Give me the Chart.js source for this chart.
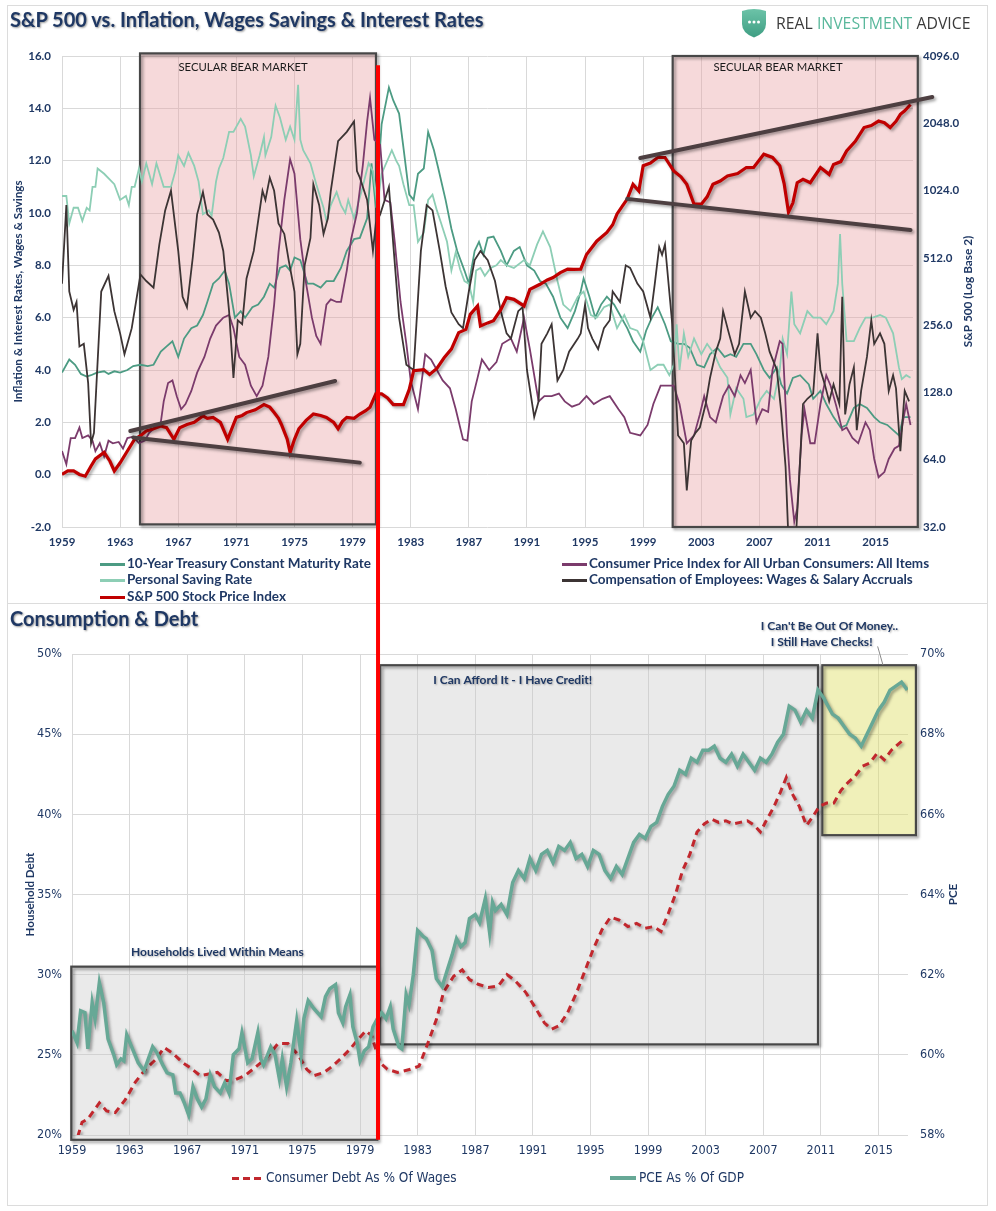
<!DOCTYPE html>
<html>
<head>
<meta charset="utf-8">
<title>S&amp;P 500 vs. Inflation, Wages Savings &amp; Interest Rates</title>
<script src="https://cdn.jsdelivr.net/npm/chart.js@4.4.1/dist/chart.umd.min.js"></script>
<style>
html, body { margin: 0; padding: 0; background: #fff; }
#page { position: relative; width: 996px; height: 1211px; overflow: hidden; font-family: Lato, 'Open Sans', sans-serif; color: #1f3864; }
.panel { position: absolute; left: 7px; width: 981px; border: 1px solid #dcdcdc; box-sizing: border-box; }
.wrap { position: absolute; left: 0; width: 996px; }
.title { position: absolute; left: 10px; font-weight: bold; font-size: 20px; color: #1f3864; text-shadow: 1px 1px 2px rgba(0,0,0,0.4); white-space: nowrap; }
.leg { position: absolute; height: 16px; line-height: 16px; white-space: nowrap; color: #1f3864; }
.leg .sw { display: inline-block; vertical-align: middle; margin-right: 2px; }
.topleg { font-size: 13.5px; font-weight: bold; }
.botleg { font-size: 13.5px; font-family: 'Liberation Sans Narrow', 'Arial Narrow', 'DejaVu Sans Condensed', sans-serif; }
#logo { position: absolute; left: 741px; top: 8px; height: 30px; }
#logo span.txt { position: absolute; left: 35px; top: 4px; font-family: 'Open Sans', sans-serif; font-size: 15.8px; color: #3b3b3b; white-space: nowrap; }
</style>
</head>
<body>
<div id="page">
  <div class="panel" style="top:5px; height:599px;"></div>
  <div class="panel" style="top:603px; height:603px;"></div>
  <div class="wrap" style="top:0; height:605px;"><canvas id="topChart"></canvas></div>
  <div class="wrap" style="top:605px; height:606px;"><canvas id="bottomChart"></canvas></div>
  <div class="title" style="top:7px;">S&amp;P 500 vs. Inflation, Wages Savings &amp; Interest Rates</div>
  <div class="title" style="top:606px;">Consumption &amp; Debt</div>
  <div id="logo">
    <svg width="26" height="30" viewBox="0 0 26 30">
      <defs><linearGradient id="g" x1="0" y1="0" x2="0" y2="1"><stop offset="0" stop-color="#6cc3a8"/><stop offset="1" stop-color="#3f9e83"/></linearGradient></defs>
      <path d="M1 3 Q13 -1 25 3 L25 16 Q25 25 13 29.5 Q1 25 1 16 Z" fill="url(#g)"/>
      <circle cx="8.5" cy="14" r="1.5" fill="#fff"/><circle cx="13" cy="14" r="1.5" fill="#fff"/><circle cx="17.5" cy="14" r="1.5" fill="#fff"/>
    </svg>
    <span class="txt">REAL <span style="color:#5ab89c">INVESTMENT</span> ADVICE</span>
  </div>
  <div id="legends"></div>
</div>
<script>
// ---------- top panel data ----------
const topTickYears = [1959, 1963, 1967, 1971, 1975, 1979, 1983, 1987, 1991, 1995, 1999, 2003, 2007, 2011, 2015];
const spTicks = [32, 64, 128, 256, 512, 1024, 2048, 4096];

// 10-Year Treasury Constant Maturity Rate [year, %]
const tsy = [[1959.0,3.9],[1959.5,4.4],[1959.9,4.2],[1960.3,3.85],[1960.7,3.75],[1961.0,3.8],[1961.4,3.9],[1961.9,3.95],[1962.2,3.85],[1962.6,3.95],[1963.0,3.9],[1963.5,4.0],[1963.9,4.15],[1964.4,4.2],[1964.9,4.15],[1965.3,4.2],[1965.8,4.7],[1966.2,4.9],[1966.6,5.1],[1967.0,4.5],[1967.4,5.2],[1967.9,5.6],[1968.3,5.7],[1968.7,6.1],[1969.0,6.6],[1969.4,7.3],[1969.8,7.5],[1970.2,7.8],[1970.5,7.3],[1970.9,6.0],[1971.3,6.25],[1971.6,6.0],[1972.1,6.4],[1972.5,6.5],[1972.9,6.8],[1973.3,7.3],[1973.6,7.15],[1974.0,7.9],[1974.4,8.0],[1974.7,7.8],[1975.0,8.3],[1975.4,8.2],[1975.9,7.3],[1976.3,7.3],[1976.8,7.15],[1977.2,7.4],[1977.7,7.4],[1978.2,7.9],[1978.6,8.55],[1979.1,9.0],[1979.5,9.05],[1980.0,9.8],[1980.3,11.9],[1980.6,10.2],[1981.0,13.4],[1981.5,14.8],[1981.8,14.3],[1982.2,13.8],[1982.5,12.5],[1982.9,10.7],[1983.2,10.5],[1983.5,11.5],[1983.9,11.7],[1984.2,13.1],[1984.6,12.4],[1984.9,11.7],[1985.4,10.5],[1985.8,9.4],[1986.2,8.55],[1986.7,7.8],[1987.0,7.3],[1987.4,8.55],[1987.7,8.9],[1988.0,8.4],[1988.3,9.05],[1988.7,9.1],[1989.2,8.55],[1989.6,8.0],[1990.1,8.55],[1990.5,8.7],[1991.0,8.0],[1991.5,7.8],[1991.9,7.4],[1992.3,7.3],[1992.8,6.8],[1993.3,6.0],[1993.8,5.6],[1994.3,6.25],[1994.7,7.0],[1994.9,7.5],[1995.3,6.8],[1995.7,6.0],[1996.1,6.5],[1996.5,6.8],[1997.0,6.5],[1997.4,6.1],[1997.9,5.6],[1998.3,5.1],[1998.8,4.7],[1999.2,5.5],[1999.6,6.0],[2000.0,6.4],[2000.5,5.75],[2000.9,5.1],[2001.4,5.0],[2001.8,5.0],[2002.2,4.85],[2002.7,4.2],[2003.2,4.1],[2003.6,4.6],[2004.1,4.85],[2004.6,4.5],[2005.0,4.6],[2005.4,4.5],[2005.9,5.0],[2006.4,5.0],[2006.8,4.6],[2007.3,4.0],[2007.7,3.7],[2008.2,4.1],[2008.5,3.45],[2008.9,3.1],[2009.3,3.7],[2009.8,3.8],[2010.4,3.45],[2010.7,2.9],[2011.2,3.2],[2011.6,2.7],[2012.1,2.2],[2012.6,1.8],[2013.0,1.9],[2013.5,2.55],[2013.9,2.7],[2014.4,2.55],[2014.9,2.2],[2015.3,2.0],[2015.8,1.9],[2016.2,1.7],[2016.6,1.5],[2016.9,2.2],[2017.4,2.2]];

// Personal Saving Rate [year, %]
const saving = [[1959.0,10.65],[1959.3,10.65],[1959.5,9.6],[1959.8,10.2],[1960.1,10.2],[1960.4,9.7],[1960.7,10.2],[1960.9,10.1],[1961.1,11.0],[1961.3,11.0],[1961.45,11.7],[1961.9,11.5],[1962.6,11.1],[1963.0,10.5],[1963.4,10.65],[1963.6,10.3],[1963.8,11.0],[1964.0,11.0],[1964.3,11.7],[1964.5,11.2],[1964.8,11.9],[1965.2,11.1],[1965.5,11.9],[1966.0,11.0],[1966.5,11.0],[1966.8,11.6],[1967.0,12.2],[1967.4,11.8],[1967.7,12.3],[1968.1,11.8],[1968.4,11.2],[1968.7,9.95],[1969.1,10.1],[1969.3,9.9],[1969.6,11.2],[1969.8,11.7],[1970.1,12.1],[1970.5,13.1],[1970.8,13.1],[1971.3,13.6],[1971.6,13.3],[1972.0,12.2],[1972.2,11.4],[1972.6,12.2],[1972.9,12.9],[1973.0,12.2],[1973.4,12.9],[1973.7,14.1],[1974.0,13.65],[1974.4,12.8],[1974.7,13.3],[1975.0,12.8],[1975.25,14.9],[1975.4,12.8],[1975.6,12.4],[1976.1,11.9],[1976.5,11.1],[1977.0,10.2],[1977.2,9.7],[1977.5,10.3],[1977.9,10.8],[1978.2,10.3],[1978.5,10.0],[1978.7,10.5],[1979.1,9.8],[1979.3,10.2],[1979.6,10.8],[1980.1,11.9],[1980.4,11.6],[1980.7,10.3],[1981.0,11.5],[1981.7,12.4],[1982.0,12.0],[1982.2,11.8],[1982.5,11.1],[1982.9,10.3],[1983.2,10.3],[1983.5,8.9],[1983.9,9.25],[1984.2,10.5],[1984.5,10.7],[1984.8,10.1],[1985.1,9.6],[1985.5,8.9],[1985.8,7.8],[1986.1,8.5],[1986.4,7.85],[1986.7,7.4],[1987.0,7.3],[1987.3,6.6],[1987.5,7.8],[1987.8,7.9],[1988.1,7.6],[1988.5,7.9],[1988.9,8.0],[1989.2,8.2],[1989.6,8.0],[1990.1,7.9],[1990.8,8.2],[1991.2,8.0],[1991.7,8.8],[1992.1,9.3],[1992.6,8.7],[1993.1,7.4],[1993.5,6.5],[1994.0,6.25],[1994.5,6.8],[1994.9,7.0],[1995.4,6.1],[1995.8,6.0],[1996.3,6.4],[1996.7,6.5],[1997.2,5.6],[1997.7,6.1],[1998.1,5.6],[1998.6,5.5],[1999.0,5.1],[1999.5,4.0],[2000.0,4.2],[2000.4,4.2],[2000.8,3.8],[2001.1,4.2],[2001.3,5.75],[2001.5,4.0],[2001.8,5.4],[2002.1,4.5],[2002.5,5.2],[2003.0,4.6],[2003.4,5.0],[2003.9,4.6],[2004.3,4.1],[2004.8,3.7],[2005.0,2.3],[2005.4,3.3],[2005.9,2.9],[2006.1,2.2],[2006.6,2.3],[2007.1,2.9],[2007.5,3.2],[2008.0,2.9],[2008.4,4.0],[2008.6,5.2],[2008.9,4.6],[2009.2,7.0],[2009.4,5.75],[2009.8,5.4],[2010.3,6.25],[2010.7,6.0],[2011.2,6.0],[2011.6,5.75],[2012.1,6.25],[2012.4,7.3],[2012.55,9.2],[2012.7,7.3],[2013.0,5.1],[2013.5,5.1],[2013.9,5.6],[2014.3,6.0],[2014.8,6.0],[2015.3,6.1],[2015.7,6.0],[2016.2,5.4],[2016.6,4.1],[2016.8,3.65],[2017.1,3.8],[2017.4,3.7]];

// Consumer Price Index, YoY [year, %]
const cpi = [[1959.0,0.9],[1959.3,0.4],[1959.6,1.4],[1959.9,1.4],[1960.2,1.8],[1960.4,1.4],[1960.8,1.5],[1961.1,1.3],[1961.3,0.9],[1961.6,1.2],[1961.9,0.7],[1962.2,1.3],[1962.5,1.2],[1962.9,1.25],[1963.2,1.0],[1963.5,1.4],[1963.9,1.45],[1964.3,1.2],[1964.7,1.3],[1965.0,1.6],[1965.4,1.8],[1965.8,2.0],[1966.0,2.8],[1966.3,3.5],[1966.6,3.6],[1966.9,3.0],[1967.2,2.5],[1967.5,2.7],[1967.9,3.2],[1968.3,3.9],[1968.8,4.5],[1969.2,5.2],[1969.6,5.7],[1970.1,6.0],[1970.5,6.1],[1970.8,5.6],[1971.2,4.5],[1971.6,4.2],[1972.0,3.4],[1972.4,3.0],[1972.8,3.4],[1973.2,4.5],[1973.6,6.5],[1973.9,8.5],[1974.3,10.5],[1974.7,12.05],[1975.0,11.5],[1975.4,9.0],[1975.8,7.3],[1976.2,6.0],[1976.5,5.3],[1976.8,5.0],[1977.2,6.5],[1977.5,6.7],[1977.9,6.6],[1978.2,6.6],[1978.6,7.8],[1978.9,9.0],[1979.3,10.0],[1979.7,11.8],[1980.0,13.5],[1980.2,14.4],[1980.5,12.8],[1980.9,12.6],[1981.2,10.5],[1981.6,10.4],[1981.9,8.9],[1982.3,6.6],[1982.7,5.0],[1983.0,3.6],[1983.5,2.5],[1984.0,4.6],[1984.4,4.4],[1984.8,4.0],[1985.2,3.6],[1985.7,3.3],[1986.1,2.5],[1986.6,1.35],[1986.9,1.3],[1987.2,2.8],[1987.6,3.7],[1987.9,4.4],[1988.4,4.0],[1988.9,4.3],[1989.3,5.0],[1989.9,5.2],[1990.3,4.7],[1990.8,6.0],[1991.2,4.8],[1991.8,2.8],[1992.2,3.0],[1992.7,3.0],[1993.2,3.1],[1993.6,2.8],[1994.1,2.6],[1994.6,2.7],[1995.1,3.0],[1995.6,2.7],[1996.2,2.9],[1996.7,3.0],[1997.3,2.5],[1997.7,2.2],[1998.1,1.6],[1998.8,1.5],[1999.3,1.9],[1999.7,2.7],[2000.2,3.4],[2000.6,3.4],[2001.1,3.4],[2001.5,2.7],[2002.0,1.2],[2002.5,1.5],[2002.9,2.3],[2003.2,3.0],[2003.6,2.2],[2004.0,2.0],[2004.5,3.0],[2004.9,3.4],[2005.3,3.0],[2005.7,3.8],[2006.0,3.5],[2006.4,4.0],[2006.8,2.0],[2007.2,2.5],[2007.6,2.4],[2007.9,4.0],[2008.4,5.1],[2008.6,5.0],[2008.9,1.5],[2009.1,-0.2],[2009.4,-1.8],[2009.6,-1.3],[2009.9,1.5],[2010.1,2.5],[2010.5,1.2],[2010.8,1.2],[2011.2,2.7],[2011.6,3.8],[2011.9,3.4],[2012.3,2.6],[2012.7,1.7],[2013.0,1.8],[2013.4,1.4],[2013.8,1.2],[2014.3,2.0],[2014.6,1.7],[2014.9,0.6],[2015.2,-0.1],[2015.6,0.1],[2015.9,0.6],[2016.3,1.0],[2016.6,1.1],[2016.9,2.1],[2017.1,2.7],[2017.4,1.9]];

// Compensation of Employees: Wages & Salary Accruals, YoY [year, %]
const wages = [[1959.0,7.3],[1959.3,10.3],[1959.5,7.0],[1959.8,6.3],[1960.0,6.6],[1960.2,4.9],[1960.5,5.0],[1960.8,3.5],[1961.0,1.2],[1961.2,1.6],[1961.7,7.0],[1962.2,7.6],[1962.6,6.25],[1963.0,5.4],[1963.3,4.6],[1963.8,5.6],[1964.4,7.65],[1964.8,7.4],[1965.3,7.15],[1965.7,8.8],[1966.1,10.1],[1966.5,10.85],[1967.0,8.55],[1967.3,6.8],[1967.6,6.4],[1968.0,8.3],[1968.3,9.95],[1968.7,10.8],[1969.0,9.95],[1969.4,9.75],[1969.8,9.25],[1970.1,8.55],[1970.5,6.25],[1970.8,3.7],[1971.1,5.9],[1971.4,5.75],[1971.7,7.5],[1972.2,8.55],[1972.8,10.85],[1973.0,10.5],[1973.3,11.35],[1973.6,10.85],[1973.9,9.6],[1974.3,9.2],[1974.6,8.2],[1975.0,7.0],[1975.2,4.6],[1975.4,5.0],[1975.7,8.0],[1976.1,9.05],[1976.3,11.1],[1976.7,10.3],[1977.0,9.2],[1977.3,9.8],[1977.5,10.85],[1977.7,11.6],[1978.0,12.75],[1978.6,13.1],[1979.1,13.5],[1979.3,11.6],[1979.5,11.35],[1980.0,10.5],[1980.4,8.55],[1980.6,9.6],[1980.9,9.95],[1981.5,11.0],[1981.8,8.8],[1982.2,6.0],[1982.7,4.2],[1983.2,4.0],[1983.7,8.55],[1984.1,10.3],[1984.5,10.1],[1985.0,8.55],[1985.4,7.2],[1985.8,6.2],[1986.3,5.75],[1986.6,5.6],[1987.0,7.0],[1987.4,8.2],[1987.8,8.55],[1988.3,8.2],[1988.8,7.4],[1989.2,6.25],[1989.6,5.4],[1989.9,5.2],[1990.4,6.25],[1990.7,6.4],[1991.0,4.0],[1991.5,2.2],[1991.8,2.8],[1992.0,5.0],[1992.4,5.4],[1992.7,5.75],[1993.1,3.6],[1993.5,4.0],[1993.9,4.7],[1994.5,5.2],[1994.7,5.4],[1995.0,6.5],[1995.2,5.6],[1995.5,5.2],[1995.9,4.8],[1996.3,5.6],[1996.7,5.9],[1996.9,7.0],[1997.4,6.6],[1997.8,8.0],[1998.1,7.9],[1998.6,7.3],[1999.0,7.0],[1999.5,6.0],[1999.8,7.3],[2000.1,8.7],[2000.3,8.4],[2000.5,8.8],[2001.0,5.75],[2001.4,1.5],[2001.8,1.2],[2002.0,-0.6],[2002.3,1.3],[2002.6,1.6],[2002.9,1.8],[2003.3,2.7],[2003.6,3.7],[2004.0,4.7],[2004.3,5.2],[2004.5,6.25],[2004.9,5.4],[2005.3,4.6],[2005.6,5.0],[2006.0,7.0],[2006.4,6.0],[2006.7,6.25],[2007.1,6.0],[2007.4,5.4],[2007.7,4.7],[2008.2,4.0],[2008.5,2.4],[2008.8,0.3],[2009.0,-2.5],[2009.4,-3.5],[2009.7,-0.5],[2010.0,2.7],[2010.3,2.9],[2010.7,3.1],[2011.0,5.4],[2011.2,4.0],[2011.5,3.45],[2011.8,2.8],[2012.1,3.45],[2012.5,2.7],[2012.7,6.8],[2012.9,2.3],[2013.2,3.45],[2013.5,4.1],[2013.7,1.7],[2014.0,3.2],[2014.4,4.5],[2014.7,5.9],[2014.9,5.0],[2015.3,5.4],[2015.6,5.0],[2015.9,3.2],[2016.2,3.8],[2016.4,3.3],[2016.7,0.9],[2017.0,3.2],[2017.3,2.8]];

// S&P 500 Stock Price Index [year, index level] (right log-2 axis)
const sp500 = [[1959.0,55],[1959.4,57],[1959.8,57],[1960.2,55],[1960.6,54],[1961.0,60],[1961.3,64.5],[1961.9,69],[1962.3,63],[1962.6,57],[1963.0,62],[1963.5,70],[1964.0,79],[1964.4,82],[1964.8,86],[1965.3,88],[1965.8,90.5],[1966.2,89],[1966.7,79],[1967.1,89],[1967.6,92],[1968.1,94],[1968.7,100.5],[1969.0,98],[1969.4,99],[1969.9,94],[1970.4,79],[1970.8,92],[1971.0,99],[1971.4,101],[1971.7,104],[1972.3,107],[1972.9,113],[1973.3,110],[1973.6,104],[1973.9,98],[1974.1,92],[1974.5,79],[1974.7,69],[1975.0,79],[1975.3,88],[1975.8,96],[1976.3,102.5],[1976.8,101],[1977.2,99],[1977.7,94],[1978.0,88],[1978.3,95],[1978.6,99],[1979.1,98],[1979.5,102.5],[1979.9,106],[1980.2,110],[1980.6,126],[1981.0,126],[1981.4,121],[1981.8,113],[1982.5,113],[1982.9,132],[1983.2,160],[1983.9,162],[1984.3,154],[1984.8,164],[1985.3,183],[1985.8,200],[1986.3,237],[1986.8,245],[1987.1,286],[1987.6,312],[1987.8,254],[1988.3,262],[1988.7,268],[1989.2,300],[1989.6,340],[1990.1,334],[1990.8,312],[1991.2,370],[1991.9,390],[1992.4,408],[1992.8,418],[1993.3,440],[1993.8,456],[1994.2,455],[1994.7,456],[1995.1,530],[1995.8,608],[1996.5,665],[1996.9,720],[1997.2,805],[1997.6,880],[1997.9,938],[1998.3,1092],[1998.7,1020],[1999.0,1322],[1999.5,1360],[2000.0,1440],[2000.5,1440],[2001.1,1254],[2001.6,1180],[2002.0,1092],[2002.5,890],[2003.0,890],[2003.4,960],[2003.8,1092],[2004.3,1130],[2004.8,1190],[2005.5,1220],[2006.1,1298],[2006.6,1300],[2007.3,1490],[2007.9,1440],[2008.4,1322],[2008.7,1100],[2009.0,820],[2009.3,900],[2009.6,1110],[2010.0,1150],[2010.5,1110],[2011.2,1298],[2011.8,1210],[2012.1,1340],[2012.6,1380],[2013.0,1540],[2013.6,1700],[2014.2,1960],[2014.7,2000],[2015.2,2095],[2015.6,2060],[2016.0,1960],[2016.4,2090],[2016.7,2245],[2017.0,2330],[2017.4,2485]];

// ---------- bottom panel data ----------
// Consumer Debt As % Of Wages [year, %] (left axis)
const debtWages = [[1959.4,19.9],[1959.7,20.8],[1960.1,21.0],[1960.9,22.0],[1961.4,21.5],[1962.0,21.4],[1962.7,22.2],[1963.4,23.3],[1964.1,24.1],[1964.8,24.7],[1965.4,25.45],[1966.0,25.1],[1966.7,24.5],[1967.2,24.2],[1967.9,23.7],[1968.5,23.8],[1969.1,23.9],[1969.7,23.4],[1970.2,23.4],[1971.0,23.7],[1971.7,24.2],[1972.5,24.8],[1973.3,25.7],[1974.0,25.7],[1974.7,25.0],[1975.3,24.1],[1975.8,23.7],[1976.5,23.9],[1977.1,24.3],[1977.7,24.8],[1978.3,25.35],[1978.8,25.9],[1979.4,26.5],[1979.8,26.2],[1980.1,25.35],[1980.4,24.5],[1980.9,24.1],[1981.6,23.9],[1982.5,24.1],[1983.1,24.3],[1983.7,25.7],[1984.3,27.2],[1984.8,28.9],[1985.5,29.9],[1986.1,30.3],[1986.6,29.7],[1987.2,29.4],[1987.9,29.2],[1988.6,29.3],[1989.2,30.0],[1989.8,29.6],[1990.5,28.9],[1991.2,27.9],[1991.8,27.0],[1992.3,26.6],[1992.8,26.8],[1993.4,27.6],[1994.0,28.8],[1994.6,30.2],[1995.2,31.6],[1995.8,32.8],[1996.4,33.6],[1997.0,33.4],[1997.6,33.0],[1998.2,33.2],[1998.8,32.9],[1999.4,33.0],[1999.9,32.7],[2000.4,33.8],[2000.9,35.0],[2001.4,36.5],[2001.9,37.5],[2002.4,38.9],[2002.9,39.4],[2003.4,39.7],[2003.9,39.5],[2004.4,39.6],[2004.9,39.4],[2005.4,39.5],[2005.9,39.6],[2006.4,39.3],[2006.8,38.9],[2007.2,39.6],[2007.7,40.4],[2008.2,41.4],[2008.6,42.3],[2009.0,41.3],[2009.5,40.5],[2010.0,39.3],[2010.4,39.8],[2010.9,40.5],[2011.4,40.7],[2011.9,40.7],[2012.4,41.5],[2012.9,42.0],[2013.4,42.4],[2013.9,43.0],[2014.4,43.2],[2014.9,43.8],[2015.4,43.4],[2015.9,44.0],[2016.4,44.4],[2016.8,44.7]];

// PCE As % Of GDP [year, %] (right axis)
const pceGdp = [[1959.0,60.6],[1959.35,60.3],[1959.6,61.1],[1959.9,61.05],[1960.1,60.15],[1960.4,61.3],[1960.6,60.9],[1960.9,61.8],[1961.2,61.3],[1961.5,60.4],[1961.9,60.0],[1962.1,59.75],[1962.4,59.9],[1962.6,59.85],[1962.8,60.5],[1963.2,60.15],[1963.6,59.8],[1964.0,59.6],[1964.3,59.9],[1964.6,60.2],[1964.9,60.05],[1965.3,59.75],[1965.6,59.55],[1966.0,59.5],[1966.2,59.05],[1966.5,59.05],[1966.8,58.8],[1967.1,58.5],[1967.4,59.2],[1967.7,58.9],[1968.0,58.7],[1968.3,58.9],[1968.6,59.5],[1968.9,59.2],[1969.3,59.05],[1969.6,59.3],[1969.9,59.05],[1970.2,60.0],[1970.6,60.15],[1970.8,60.55],[1971.2,59.8],[1971.5,59.9],[1971.9,60.55],[1972.1,59.9],[1972.3,59.75],[1972.8,60.2],[1973.1,60.0],[1973.4,59.4],[1973.6,59.9],[1973.9,59.2],[1974.2,59.8],[1974.6,60.85],[1974.9,60.0],[1975.1,60.9],[1975.4,61.35],[1975.8,61.15],[1976.3,60.95],[1976.6,61.45],[1976.9,61.65],[1977.3,61.75],[1977.5,61.05],[1977.8,60.8],[1978.0,61.2],[1978.3,61.5],[1978.5,60.7],[1978.8,60.3],[1979.0,59.85],[1979.3,60.1],[1979.6,60.2],[1979.9,60.7],[1980.2,60.9],[1980.5,61.05],[1980.8,60.9],[1981.1,61.2],[1981.3,60.65],[1981.7,60.2],[1981.9,60.15],[1982.2,61.5],[1982.4,61.25],[1982.7,62.0],[1983.0,63.1],[1983.4,62.95],[1983.6,62.9],[1984.0,62.6],[1984.3,61.9],[1984.7,61.7],[1985.0,62.05],[1985.4,62.5],[1985.7,62.9],[1986.0,62.7],[1986.3,62.8],[1986.6,63.4],[1987.0,63.5],[1987.3,63.3],[1987.7,63.9],[1988.0,63.05],[1988.2,63.8],[1988.4,63.6],[1988.8,63.75],[1989.2,63.5],[1989.6,64.3],[1990.0,64.6],[1990.4,64.4],[1990.8,64.9],[1991.2,64.6],[1991.6,65.0],[1992.0,65.1],[1992.4,64.8],[1992.8,65.2],[1993.2,65.1],[1993.6,65.3],[1994.0,64.9],[1994.4,65.0],[1994.8,64.7],[1995.2,65.1],[1995.6,65.0],[1996.0,64.6],[1996.4,64.4],[1996.8,64.7],[1997.2,64.5],[1997.6,64.9],[1998.0,65.3],[1998.4,65.5],[1998.8,65.4],[1999.2,65.7],[1999.6,65.8],[2000.0,66.2],[2000.4,66.5],[2000.8,66.7],[2001.2,67.1],[2001.6,67.0],[2002.0,67.4],[2002.4,67.3],[2002.8,67.6],[2003.2,67.6],[2003.6,67.7],[2004.0,67.4],[2004.4,67.3],[2004.8,67.5],[2005.2,67.2],[2005.6,67.5],[2006.0,67.3],[2006.4,67.1],[2006.8,67.4],[2007.2,67.3],[2007.6,67.5],[2008.0,67.8],[2008.4,68.0],[2008.8,68.7],[2009.2,68.6],[2009.6,68.3],[2010.0,68.6],[2010.4,68.4],[2010.8,69.1],[2011.2,68.9],[2011.5,68.7],[2011.8,68.5],[2012.2,68.4],[2012.6,68.2],[2013.0,68.0],[2013.4,67.9],[2013.8,67.7],[2014.2,68.0],[2014.6,68.3],[2015.0,68.6],[2015.4,68.8],[2015.8,69.1],[2016.2,69.2],[2016.6,69.3],[2017.0,69.1]];

// ---------- annotations (data units) ----------
const bearBoxes = [[1964.37, 2001.03], [1980.61, 2017.9]]; // [starts], [ends]
const bearLabelYears = [1971.46, 2008.28];
const trendLines = [
  [1963.7, 1.67, 1977.8, 3.58],
  [1963.9, 1.42, 1979.5, 0.46],
  [1998.8, 12.1, 2018.9, 14.43],
  [1997.9, 10.54, 2017.4, 9.35]
];
const redLineTopYear = 1980.75;
const redLineBottomYear = 1980.25;

const NAVY = '#1f3864';
const GRID = '#d9d9d9';
const NARROW = "'Liberation Sans Narrow', 'Arial Narrow', 'DejaVu Sans Condensed', sans-serif";
const LATO = "Lato, 'Open Sans', sans-serif";

Chart.defaults.font.family = LATO;
Chart.defaults.color = NAVY;

function xy(pairs) {
  return pairs.map(p => ({ x: p[0], y: p[1] }));
}

function series(label, pairs, color, width, axis, extra) {
  return Object.assign({
    label: label,
    data: xy(pairs),
    borderColor: color,
    backgroundColor: color,
    borderWidth: width,
    pointRadius: 0,
    pointHoverRadius: 0,
    tension: 0,
    fill: false,
    yAxisID: axis
  }, extra || {});
}

// drop shadow under selected lines
const lineShadow = {
  id: 'lineShadow',
  beforeDatasetDraw(chart, args) {
    if (!chart.data.datasets[args.index].shadow) return;
    const ctx = chart.ctx;
    ctx.save();
    ctx.shadowColor = 'rgba(0,0,0,0.35)';
    ctx.shadowBlur = 3;
    ctx.shadowOffsetX = 2;
    ctx.shadowOffsetY = 2;
  },
  afterDatasetDraw(chart, args) {
    if (chart.data.datasets[args.index].shadow) chart.ctx.restore();
  }
};

// boxes, trend lines, notes, the red divider and rotated axis titles
function makeOverlay(cfg) {
  return {
    id: 'overlay',
    beforeDatasetsDraw(chart) {
      const ctx = chart.ctx, x = chart.scales.x, y = chart.scales.y;
      (cfg.boxes || []).forEach(b => {
        const l = x.getPixelForValue(b.x0), r = x.getPixelForValue(b.x1);
        const t = y.getPixelForValue(b.top), bt = y.getPixelForValue(b.bottom);
        ctx.save();
        ctx.fillStyle = b.fill;
        ctx.fillRect(l, t, r - l, bt - t);
        ctx.shadowColor = 'rgba(0,0,0,0.4)';
        ctx.shadowBlur = 3;
        ctx.shadowOffsetX = 2;
        ctx.shadowOffsetY = 2;
        ctx.strokeStyle = '#474747';
        ctx.lineWidth = 2.2;
        ctx.strokeRect(l, t, r - l, bt - t);
        ctx.restore();
      });
    },
    afterDatasetsDraw(chart) {
      const ctx = chart.ctx, x = chart.scales.x, y = chart.scales.y;
      (cfg.lines || []).forEach(ln => {
        ctx.save();
        if (ln.shadow) {
          ctx.shadowColor = 'rgba(0,0,0,0.35)';
          ctx.shadowBlur = 3;
          ctx.shadowOffsetX = 2;
          ctx.shadowOffsetY = 2;
        }
        ctx.strokeStyle = ln.color;
        ctx.lineWidth = ln.width;
        ctx.lineCap = 'round';
        ctx.beginPath();
        ctx.moveTo(x.getPixelForValue(ln.x0), y.getPixelForValue(ln.y0));
        ctx.lineTo(x.getPixelForValue(ln.x1), y.getPixelForValue(ln.y1));
        ctx.stroke();
        ctx.restore();
      });
      (cfg.notes || []).forEach(n => {
        ctx.save();
        ctx.font = n.font;
        ctx.fillStyle = n.color;
        ctx.textAlign = 'center';
        ctx.textBaseline = 'middle';
        if (n.shadow) {
          ctx.shadowColor = 'rgba(0,0,0,0.3)';
          ctx.shadowBlur = 2;
          ctx.shadowOffsetX = 1;
          ctx.shadowOffsetY = 1;
        }
        ctx.fillText(n.text, x.getPixelForValue(n.x), y.getPixelForValue(n.y));
        ctx.restore();
      });
    },
    afterDraw(chart) {
      const ctx = chart.ctx, x = chart.scales.x, y = chart.scales.y, a = chart.chartArea;
      if (cfg.divider) {
        const d = cfg.divider;
        const px = x.getPixelForValue(d.x);
        const y0 = d.from === null ? 0 : y.getPixelForValue(d.from);
        const y1 = d.to === null ? chart.height : y.getPixelForValue(d.to);
        ctx.save();
        ctx.strokeStyle = '#ff0000';
        ctx.lineWidth = 4;
        ctx.beginPath();
        ctx.moveTo(px, y0);
        ctx.lineTo(px, y1);
        ctx.stroke();
        ctx.restore();
      }
      (cfg.axisTitles || []).forEach(t => {
        const px = t.side === 'left' ? a.left - t.offset : a.right + t.offset;
        ctx.save();
        ctx.translate(px, (a.top + a.bottom) / 2);
        ctx.rotate(-Math.PI / 2);
        ctx.font = t.font;
        ctx.fillStyle = NAVY;
        ctx.textAlign = 'center';
        ctx.textBaseline = 'middle';
        ctx.fillText(t.text, 0, 0);
        ctx.restore();
      });
    }
  };
}

const tickFont = { family: LATO, size: 11.5, weight: 'bold' };
const narrowFont = { family: NARROW, size: 12.5, weight: 'normal' };

// ---------- top chart ----------
const topOverlay = makeOverlay({
  boxes: [
    { x0: bearBoxes[0][0], x1: bearBoxes[1][0], top: 16.1, bottom: -1.9, fill: 'rgba(232,160,163,0.4)' },
    { x0: bearBoxes[0][1], x1: bearBoxes[1][1], top: 16.0, bottom: -2.0, fill: 'rgba(232,160,163,0.4)' }
  ],
  lines: trendLines.map(t => ({ x0: t[0], y0: t[1], x1: t[2], y1: t[3], color: '#4d3f41', width: 4, shadow: true })),
  notes: bearLabelYears.map(yr => ({ x: yr, y: 15.58, text: 'SECULAR BEAR MARKET', font: '11.3px ' + LATO, color: '#1a1a1a' })),
  divider: { x: redLineTopYear, from: 15.65, to: null },
  axisTitles: [
    { side: 'left', offset: 44, text: 'Inflation & Interest Rates, Wages & Savings', font: 'bold 11.6px ' + LATO },
    { side: 'right', offset: 55, text: 'S&P 500 (Log Base 2)', font: 'bold 11.8px ' + LATO }
  ]
});

new Chart(document.getElementById('topChart'), {
  type: 'line',
  data: {
    datasets: [
      series('S&P 500 Stock Price Index', sp500, '#c00000', 3.2, 'y2', { shadow: true }),
      series('Compensation of Employees: Wages & Salary Accruals', wages, '#3c3434', 1.8, 'y'),
      series('Consumer Price Index for All Urban Consumers: All Items', cpi, '#7b3b6c', 1.8, 'y'),
      series('Personal Saving Rate', saving, '#8dceb5', 1.8, 'y'),
      series('10-Year Treasury Constant Maturity Rate', tsy, '#4c9b83', 1.8, 'y')
    ]
  },
  options: {
    responsive: true,
    maintainAspectRatio: false,
    animation: false,
    events: [],
    layout: { padding: { top: 56, bottom: 0, left: 0, right: 0 } },
    plugins: { legend: { display: false }, tooltip: { enabled: false } },
    scales: {
      x: {
        type: 'linear',
        min: 1959,
        max: 2017.57,
        afterBuildTicks: s => { s.ticks = topTickYears.map(v => ({ value: v })); },
        afterFit: s => { s.height = 78; },
        ticks: { callback: v => String(v), font: tickFont, color: NAVY, maxRotation: 0, autoSkip: false, padding: 8 },
        grid: { color: GRID, drawTicks: false },
        border: { display: false }
      },
      y: {
        type: 'linear',
        position: 'left',
        min: -2,
        max: 16,
        afterFit: s => { s.width = 62; },
        ticks: { stepSize: 2, callback: v => v.toFixed(1), font: tickFont, color: NAVY, padding: 11 },
        grid: { color: GRID, drawTicks: false },
        border: { display: false }
      },
      y2: {
        type: 'logarithmic',
        position: 'right',
        min: 32,
        max: 4096,
        afterBuildTicks: s => { s.ticks = spTicks.map(v => ({ value: v })); },
        afterFit: s => { s.width = 83; },
        ticks: { callback: v => Number(v).toFixed(1), font: tickFont, color: NAVY, padding: 10 },
        grid: { display: false, drawTicks: false },
        border: { display: false }
      }
    }
  },
  plugins: [lineShadow, topOverlay]
});

// ---------- bottom chart ----------
const noteFont = 'bold 12px ' + LATO;
const bottomOverlay = makeOverlay({
  boxes: [
    { x0: 1958.95, x1: 1980.2, top: 30.5, bottom: 19.7, fill: 'rgba(200,200,200,0.38)' },
    { x0: 1980.4, x1: 2010.8, top: 49.3, bottom: 25.65, fill: 'rgba(200,200,200,0.38)' },
    { x0: 2011.1, x1: 2017.6, top: 49.3, bottom: 38.7, fill: 'rgba(222,222,100,0.45)' }
  ],
  lines: [{ x0: 2014.95, y0: 50.45, x1: 2015.3, y1: 49.35, color: '#8a8a8a', width: 1, shadow: false }],
  notes: [
    { x: 1969.1, y: 31.4, text: 'Households Lived Within Means', font: noteFont, color: NAVY, shadow: true },
    { x: 1989.6, y: 48.4, text: 'I Can Afford It - I Have Credit!', font: noteFont, color: NAVY, shadow: true },
    { x: 2011.6, y: 51.75, text: "I Can't Be Out Of Money..", font: noteFont, color: NAVY, shadow: true },
    { x: 2011.05, y: 50.75, text: 'I Still Have Checks!', font: noteFont, color: NAVY, shadow: true }
  ],
  divider: { x: redLineBottomYear, from: null, to: 19.7 },
  axisTitles: [
    { side: 'left', offset: 42, text: 'Household Debt', font: 'bold 11.5px ' + LATO },
    { side: 'right', offset: 45, text: 'PCE', font: 'bold 11.5px ' + LATO }
  ]
});

new Chart(document.getElementById('bottomChart'), {
  type: 'line',
  data: {
    datasets: [
      series('PCE As % Of GDP', pceGdp, '#67a896', 3.5, 'y2', { shadow: true }),
      series('Consumer Debt As % Of Wages', debtWages, '#c1272d', 3, 'y', { borderDash: [7, 5], shadow: true })
    ]
  },
  options: {
    responsive: true,
    maintainAspectRatio: false,
    animation: false,
    events: [],
    layout: { padding: { top: 49, bottom: 0, left: 0, right: 0 } },
    plugins: { legend: { display: false }, tooltip: { enabled: false } },
    scales: {
      x: {
        type: 'linear',
        min: 1959,
        max: 2017.05,
        afterBuildTicks: s => { s.ticks = topTickYears.map(v => ({ value: v })); },
        afterFit: s => { s.height = 76; },
        ticks: { callback: v => String(v), font: narrowFont, color: NAVY, maxRotation: 0, autoSkip: false, padding: 8 },
        grid: { color: GRID, drawTicks: false },
        border: { display: false }
      },
      y: {
        type: 'linear',
        position: 'left',
        min: 20,
        max: 50,
        afterFit: s => { s.width = 72; },
        ticks: { stepSize: 5, callback: v => v + '%', font: narrowFont, color: NAVY, padding: 10 },
        grid: { color: GRID, drawTicks: false },
        border: { display: false }
      },
      y2: {
        type: 'linear',
        position: 'right',
        min: 58,
        max: 70,
        afterFit: s => { s.width = 88; },
        ticks: { stepSize: 2, callback: v => v + '%', font: narrowFont, color: NAVY, padding: 12 },
        grid: { display: false, drawTicks: false },
        border: { display: false }
      }
    }
  },
  plugins: [lineShadow, bottomOverlay]
});

// ---------- legends ----------
const topLegend = [
  { label: '10-Year Treasury Constant Maturity Rate', color: '#4c9b83', left: 100, top: 555 },
  { label: 'Personal Saving Rate', color: '#8dceb5', left: 100, top: 571 },
  { label: 'S&P 500 Stock Price Index', color: '#c00000', left: 100, top: 588, thick: true },
  { label: 'Consumer Price Index for All Urban Consumers: All Items', color: '#7b3b6c', left: 562, top: 555 },
  { label: 'Compensation of Employees: Wages & Salary Accruals', color: '#3c3434', left: 562, top: 571 }
];
const bottomLegend = [
  { label: 'Consumer Debt As % Of Wages', color: '#c1272d', left: 232, top: 1169, dashed: true },
  { label: 'PCE As % Of GDP', color: '#67a896', left: 610, top: 1169 }
];

const legendHost = document.getElementById('legends');
topLegend.forEach(it => {
  const d = document.createElement('div');
  d.className = 'leg topleg';
  d.style.left = it.left + 'px';
  d.style.top = it.top + 'px';
  const sw = document.createElement('span');
  sw.className = 'sw';
  sw.style.width = '25px';
  sw.style.height = (it.thick ? 3.5 : 2.5) + 'px';
  sw.style.background = it.color;
  d.appendChild(sw);
  d.appendChild(document.createTextNode(it.label));
  legendHost.appendChild(d);
});
bottomLegend.forEach(it => {
  const d = document.createElement('div');
  d.className = 'leg botleg';
  d.style.left = it.left + 'px';
  d.style.top = it.top + 'px';
  const sw = document.createElement('span');
  sw.className = 'sw';
  sw.style.width = (it.dashed ? 31 : 26) + 'px';
  sw.style.height = (it.dashed ? 3 : 4) + 'px';
  sw.style.background = it.dashed
    ? 'repeating-linear-gradient(to right, ' + it.color + ' 0 7px, transparent 7px 11px)'
    : it.color;
  sw.style.marginRight = '3px';
  d.appendChild(sw);
  d.appendChild(document.createTextNode(it.label));
  legendHost.appendChild(d);
});
</script>
</body>
</html>
